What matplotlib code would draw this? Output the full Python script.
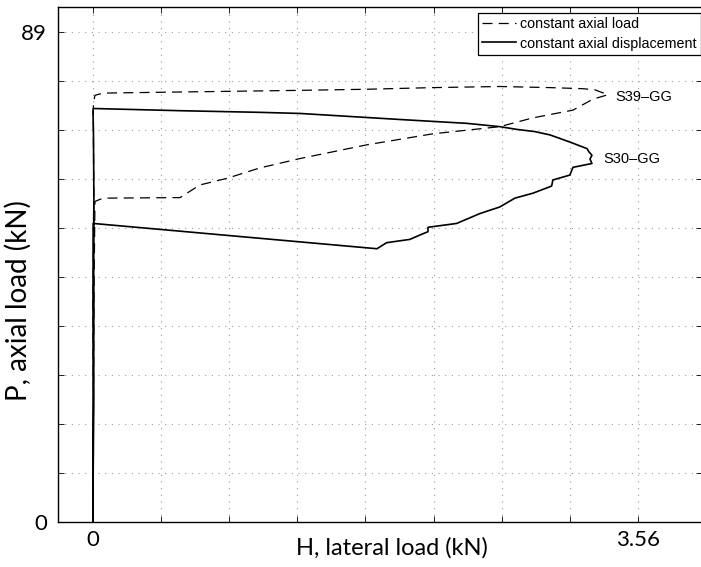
import numpy as np
import matplotlib
matplotlib.use("Agg")
import matplotlib.pyplot as plt

# axis ticks (gridlines at every tick, labels only at the ends)
H_TICKS = [0, 0.445, 0.89, 1.335, 1.78, 2.225, 2.67, 3.115, 3.56]
H_LABELS = ["0", "", "", "", "", "", "", "", "3.56"]
P_TICKS = [0, 8.9, 17.8, 26.7, 35.6, 44.5, 53.4, 62.3, 71.2, 80.1, 89]
P_LABELS = ["0", "", "", "", "", "", "", "", "", "", "89"]

# S39-GG, constant axial load (dashed)
load_h = [0.002, 0.005, 0.002, 0.008, 0.004, 0.005, 0.015, 0.067, 0.570, 1.092,
          1.353, 1.790, 2.220, 2.657, 2.984, 3.199, 3.277, 3.362, 3.264, 3.134,
          2.873, 2.657, 2.220, 1.790, 1.353, 1.092, 0.876, 0.700, 0.570, 0.067,
          0.015, 0.008, 0.005, 0.002]
load_p = [0.0, 22.1, 40.3, 58.4, 73.0, 76.1, 77.5, 77.9, 78.1, 78.3,
          78.4, 78.6, 78.9, 79.1, 78.9, 78.7, 78.5, 77.6, 76.8, 74.8,
          73.4, 71.8, 70.5, 68.5, 66.0, 64.3, 62.4, 61.2, 58.9, 58.8,
          58.2, 40.3, 18.5, 0.0]

# S30-GG, constant axial displacement (solid)
disp_h = [0.002, 0.005, 0.002, 0.008, 0.005, 0.002, 0.004, 0.570, 1.092, 1.353,
          2.005, 2.442, 2.657, 2.768, 2.885, 2.984, 3.114, 3.226, 3.239, 3.258,
          3.245, 3.258, 3.134, 3.114, 3.003, 2.995, 2.873, 2.755, 2.657, 2.527,
          2.375, 2.188, 2.188, 2.136, 2.070, 1.918, 1.855, 0.004, 0.008, 0.005,
          0.002]
disp_p = [0.0, 22.1, 40.3, 58.4, 71.2, 74.5, 75.1, 74.7, 74.4, 74.2,
          73.1, 72.4, 71.8, 71.3, 70.9, 70.3, 69.0, 67.8, 67.2, 66.6,
          65.9, 65.1, 64.4, 63.0, 62.1, 61.0, 59.7, 58.8, 57.2, 56.0,
          54.2, 53.5, 52.7, 52.1, 51.3, 50.7, 49.6, 54.2, 40.3, 18.5,
          0.0]

fig = plt.figure(figsize=(7.01, 5.67), dpi=100)
ax = fig.add_axes([0.0827, 0.0802, 0.9187, 0.9074])

ax.plot(load_h, load_p, color="black", lw=0.9, dashes=(8, 5),
        label="constant axial load")
ax.plot(disp_h, disp_p, color="black", lw=1.2,
        label="constant axial displacement")

ax.text(3.408, 77.2, "S39–GG", fontsize=10.5, family="Liberation Sans",
        ha="left", va="center")
ax.text(3.332, 66.0, "S30–GG", fontsize=10.5, family="Liberation Sans",
        ha="left", va="center")

ax.set_xlim(-0.2264, 3.976)
ax.set_ylim(0, 93.55)

ax.set_xticks(H_TICKS, H_LABELS)
ax.set_yticks(P_TICKS, P_LABELS)
ax.tick_params(direction="in", length=4, width=0.6, top=True, right=True)
ax.tick_params(axis="x", pad=6, labelsize=16)
ax.tick_params(axis="y", pad=8, labelsize=16)
for lab in ax.get_xticklabels() + ax.get_yticklabels():
    lab.set_family("Lato")

ax.grid(True, color="#9a9a9a", lw=0.8, linestyle=(0, (1, 5)))
for s in ax.spines.values():
    s.set_linewidth(1.0)

ax.set_xlabel("H, lateral load (kN)", fontsize=17, family="Lato")
ax.xaxis.set_label_coords(0.519, -0.030)
ax.set_ylabel("P, axial load (kN)", fontsize=20, family="Lato")
ax.yaxis.set_label_coords(-0.040, 0.43)

leg = ax.legend(loc="upper right", bbox_to_anchor=(0.9985, 0.988),
                prop={"family": "Liberation Sans", "size": 10.3},
                frameon=True, fancybox=False, framealpha=1, edgecolor="black",
                handlelength=2.4, handletextpad=0.27, borderpad=0.3,
                labelspacing=0.35, borderaxespad=0)
leg.get_frame().set_linewidth(0.9)

fig.savefig("out.png", dpi=100)
